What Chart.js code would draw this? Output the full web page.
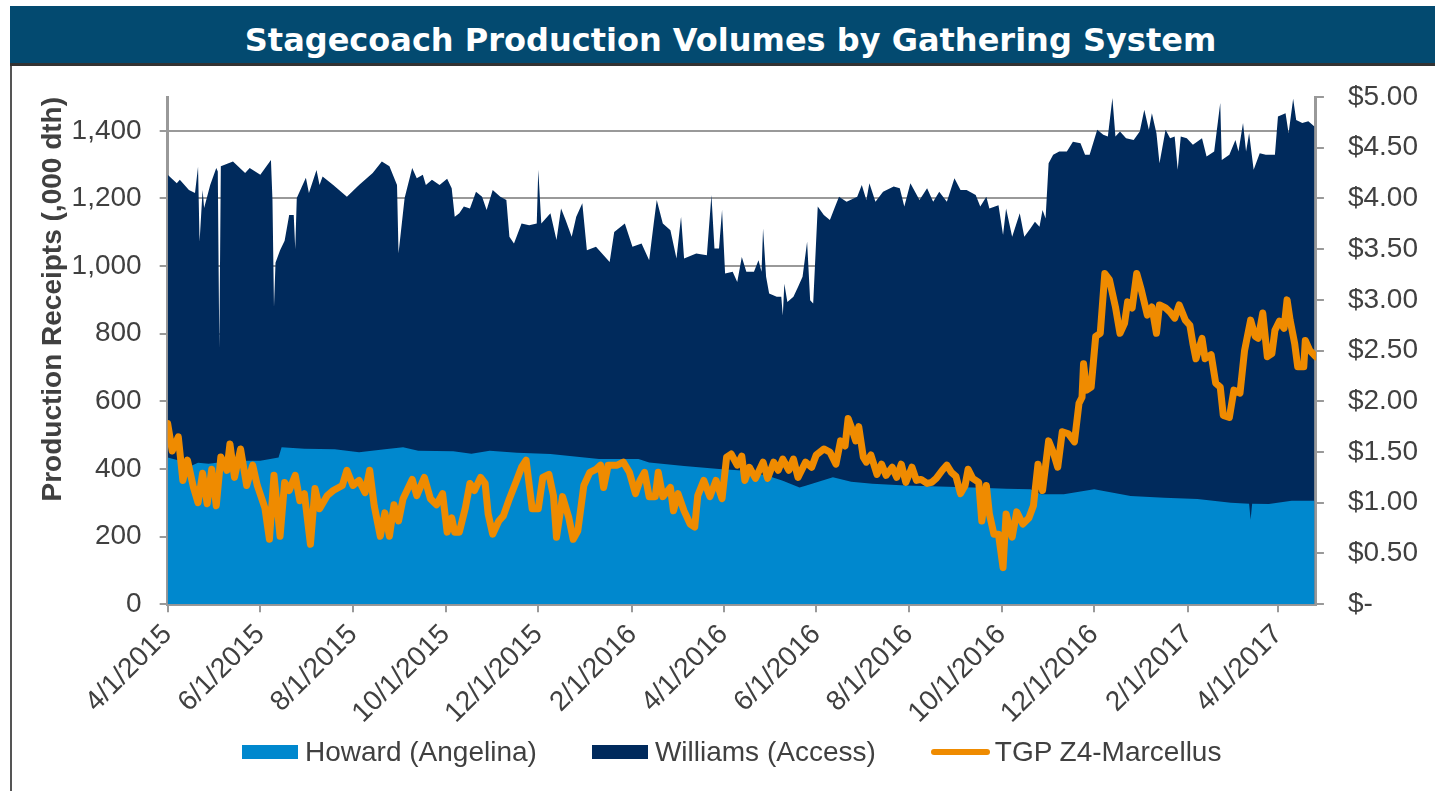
<!DOCTYPE html>
<html>
<head>
<meta charset="utf-8">
<title>Stagecoach Production Volumes by Gathering System</title>
<script src="https://cdn.jsdelivr.net/npm/chart.js@4.4.1/dist/chart.umd.min.js"></script>
<style>
  body { margin: 0; background: #fff; overflow: hidden; }
  #wrap { position: absolute; left: 0; top: 0; width: 1445px; height: 791px; }
  #banner {
    position: absolute; left: 10px; top: 6px; width: 1409px; height: 57px; z-index: 2;
    padding-left: 16px;
    background: #034a70; border-bottom: 3px solid #333;
    color: #fff; font: bold 32px "DejaVu Sans", Verdana, sans-serif;
    text-align: center; line-height: 68px;
  }
  #edge { position: absolute; left: 10px; top: 66px; width: 2px; height: 725px; background: #555; z-index: 2; }
  #legend {
    position: absolute; left: 242px; top: 736px; height: 32px; z-index: 2;
    display: flex; align-items: center;
    font: 28px "Liberation Sans", Arial, sans-serif; color: #404040;
  }
  #legend .item { display: flex; align-items: center; margin-right: 55px; }
  #legend .box { width: 56px; height: 14px; margin-right: 7px; }
  #legend .line { width: 59px; height: 6px; border-radius: 3px; margin-right: 5px; }
</style>
</head>
<body>
<div id="wrap"><canvas id="myChart"></canvas></div>
<div id="banner">Stagecoach Production Volumes by Gathering System</div>
<div id="edge"></div>
<div id="legend">
  <div class="item"><span class="box" style="background:#0088ce"></span>Howard (Angelina)</div>
  <div class="item"><span class="box" style="background:#002a5c"></span>Williams (Access)</div>
  <div class="item"><span class="line" style="background:#ef8b00"></span>TGP Z4-Marcellus</div>
</div>
<script>
// x values are days since 4/1/2015
var tickLabels = ["4/1/2015", "6/1/2015", "8/1/2015", "10/1/2015", "12/1/2015", "2/1/2016",
  "4/1/2016", "6/1/2016", "8/1/2016", "10/1/2016", "12/1/2016", "2/1/2017", "4/1/2017"];

// top of the stack: Howard + Williams (000 dth)
var totalDays = [0, 6, 8, 14, 18, 20, 21, 23, 24, 28, 32, 33, 34, 35, 43, 51, 54, 61, 68, 69, 70, 71, 74, 77, 80, 83, 84, 85,
  91, 93, 98, 100, 102, 109, 118, 126, 135, 141, 146, 151, 152, 156, 161, 164, 168, 170, 174, 179, 184, 187, 189,
  192, 195, 199, 203, 207, 210, 214, 219, 223, 225, 228, 233, 238, 243, 244, 246, 252, 256, 259, 262, 266, 269,
  273, 276, 282, 287, 291, 294, 301, 306, 312, 317, 320, 322, 326, 331, 335, 338, 340, 348, 355, 358, 360, 363,
  365, 367, 372, 375, 378, 381, 386, 389, 391, 392, 394, 396, 401, 404, 405, 406, 408, 412, 415, 418, 421, 423,
  425, 428, 432, 436, 439, 442, 447, 454, 457, 460, 462, 466, 471, 478, 482, 485, 489, 495, 500, 504, 508, 513,
  518, 522, 526, 532, 535, 539, 541, 547, 550, 552, 556, 561, 564, 568, 571, 574, 576, 578, 580, 583, 587, 592,
  596, 601, 604, 607, 612, 616, 619, 622, 624, 627, 631, 636, 640, 643, 646, 648, 651, 653, 657, 660, 663, 665,
  667, 671, 675, 681, 684, 689, 693, 694, 699, 703, 705, 708, 710, 712, 715, 719, 723, 729, 731, 736, 738, 741,
  743, 747, 751, 755];
var totalVals = [1270, 1245, 1255, 1225, 1216, 1294, 1072, 1225, 1172, 1240, 1290, 1280, 756, 1295, 1309, 1275, 1290, 1270,
  1314, 1195, 879, 1010, 1047, 1075, 1151, 1151, 1050, 1201,
  1261, 1216, 1284, 1240, 1265, 1240, 1205, 1240, 1275, 1309, 1295, 1240, 1038, 1201, 1290, 1260, 1270, 1240, 1255,
  1240, 1258, 1230, 1146,
  1156, 1176, 1170, 1220, 1205, 1166, 1225, 1205, 1195, 1087, 1067, 1126, 1121, 1126, 1285, 1126, 1156, 1077, 1170,
  1136, 1087, 1146, 1186, 1047, 1057, 1032, 1012, 1101, 1126, 1057, 1067, 1017, 1126, 1195, 1126, 1106, 1022, 1146,
  1022, 1037, 1032, 1210, 1052, 1052,
  1166, 978, 983, 953, 1027, 983, 983, 1017, 983, 1111, 968, 919, 909, 909, 854, 948, 894, 909, 938, 968, 1072, 899,
  889, 1176, 1151, 1136, 1171, 1205, 1190, 1205, 1240, 1195, 1245, 1190, 1220, 1235, 1230, 1176, 1245, 1195, 1230,
  1190, 1220, 1190,
  1260, 1225, 1225, 1210, 1176, 1205, 1170, 1180, 1092, 1170, 1087, 1156, 1087, 1111, 1131, 1116, 1166, 1141, 1304,
  1329, 1339, 1339,
  1368, 1363, 1329, 1329, 1403, 1388, 1383, 1497, 1383, 1398, 1378, 1373, 1398, 1462, 1403, 1452, 1393, 1304, 1403,
  1378, 1383, 1285,
  1383, 1378, 1359, 1378, 1324, 1339, 1482, 1314, 1329, 1373, 1339, 1423, 1339, 1393, 1285, 1334, 1329, 1329, 1442,
  1452, 1393, 1495,
  1432, 1423, 1428, 1413];

// Howard (Angelina), 000 dth
var howardDays = [0, 8, 13, 20, 27, 43, 61, 73, 75, 90, 110, 126, 143, 155, 165, 188, 200, 212, 230, 252, 284, 310, 317,
  340, 363, 378, 395, 405, 416, 420, 438, 450, 464, 486, 508, 530, 552, 568, 575, 590, 610, 634, 656, 678, 700,
  712, 713, 714, 725, 740, 755];
var howardVals = [434, 424, 404, 418, 415, 424, 424, 434, 464, 460, 458, 449, 458, 464, 454, 452, 445, 454, 448, 444, 429,
  429, 419, 409, 400, 395, 380, 365, 345, 350, 375, 362, 356, 351, 348, 345, 341, 340, 325, 325, 340, 320, 315, 311,
  300, 297, 250, 297, 296, 306, 306];

// TGP Z4-Marcellus, $/dth
var priceDays = [0, 3, 7, 10, 13, 17, 20, 23, 26, 29, 32, 35, 39, 41, 44, 48, 52, 56, 59, 64, 67, 70, 74, 77, 80, 84, 87,
  90, 94, 97, 100, 105, 109, 115, 118, 122, 126, 130, 133, 136, 140, 143, 146, 149, 152, 155, 161, 164, 169, 173,
  177, 181, 184, 187, 189, 192, 196, 199, 202, 206, 209, 211, 214, 218, 221, 225, 230, 233, 236, 240, 244, 247,
  251, 254, 256, 260, 264, 267, 270, 274, 278, 282, 285, 287, 290, 296, 300, 304, 308, 311, 314, 317, 321, 323,
  326, 331, 333, 336, 340, 344, 347, 349, 353, 357, 361, 365, 368, 371, 375, 378, 380, 383, 387, 392, 395, 399,
  402, 405, 409, 412, 415, 420, 424, 427, 432, 436, 440, 443, 446, 448, 450, 453, 455, 458, 460, 463, 467, 470,
  473, 477, 480, 483, 486, 490, 493, 496, 500, 503, 506, 510, 513, 516, 519, 522, 525, 527, 530, 534, 536, 539,
  541, 544, 547, 550, 552, 556, 559, 563, 567, 570, 573, 576, 580, 583, 586, 589, 593, 597, 600, 602, 603, 605,
  608, 611, 614, 617, 620, 624, 627, 630, 632, 635, 638, 641, 645, 648, 651, 653, 657, 660, 663, 666, 670, 673,
  675, 677, 681, 683, 687, 690, 693, 695, 699, 702, 706, 709, 713, 716, 718, 721, 724, 727, 729, 732, 735, 737,
  739, 742, 744, 748, 749, 752, 756];
var priceVals = [1.78, 1.51, 1.65, 1.22, 1.42, 1.15, 1.00, 1.29, 0.99, 1.33, 0.97, 1.45, 1.32, 1.58, 1.25, 1.53, 1.17,
  1.37, 1.17, 0.95, 0.64, 1.27, 0.67, 1.20, 1.12, 1.27, 1.02, 1.09, 0.59, 1.14, 0.94, 1.07, 1.12, 1.17, 1.32, 1.17,
  1.22, 1.10, 1.32, 0.97, 0.67, 0.90, 0.67, 0.98, 0.82, 1.04, 1.23, 1.07, 1.25, 1.04, 0.98, 1.09, 0.71, 0.85, 0.71,
  0.71, 0.95, 1.19, 1.12, 1.25, 1.19, 0.89, 0.69, 0.82, 0.87, 1.04, 1.23, 1.35, 1.42, 0.94, 0.94, 1.25, 1.28, 1.07,
  0.66, 1.06, 0.86, 0.64, 0.72, 1.17, 1.30, 1.33, 1.37, 1.15, 1.37, 1.37, 1.40, 1.30, 1.09, 1.22, 1.30, 1.06, 1.06,
  1.30, 1.06, 1.15, 0.92, 1.09, 0.92, 0.79, 0.76, 1.07, 1.22, 1.06, 1.22, 1.04, 1.45, 1.48, 1.37, 1.46, 1.22, 1.35,
  1.24, 1.40, 1.24, 1.40, 1.32, 1.43, 1.32, 1.43, 1.25, 1.40, 1.35, 1.47, 1.53, 1.50, 1.38, 1.61, 1.56, 1.83, 1.75,
  1.61, 1.75, 1.45, 1.40, 1.47, 1.28, 1.38, 1.27, 1.35, 1.25, 1.38, 1.20, 1.35, 1.22, 1.23, 1.19, 1.20, 1.24, 1.32,
  1.37, 1.30, 1.26, 1.09, 1.17, 1.33, 1.24, 1.20, 0.82, 1.17, 0.89, 0.69, 0.69, 0.36, 0.89, 0.66, 0.91, 0.79, 0.85,
  0.97, 1.38, 1.12, 1.61, 1.50, 1.35, 1.70, 1.68, 1.60, 1.98, 2.04, 2.37, 2.11, 2.14, 2.64, 2.67, 3.26, 3.20, 2.93,
  2.67, 2.77, 2.98, 2.92, 3.26, 3.10, 2.85, 2.93, 2.67, 2.95, 2.92, 2.88, 2.82, 2.95, 2.80, 2.75, 2.57, 2.42, 2.62,
  2.42, 2.46, 2.18, 2.14, 1.86, 1.84, 2.11, 2.08, 2.50, 2.80, 2.64, 2.62, 2.87, 2.44, 2.47, 2.70, 2.79, 2.72, 3.00,
  2.80, 2.57, 2.34, 2.34, 2.60, 2.50, 2.44];

function dayOf(label) {
  var p = label.split("/");
  return Math.round((Date.UTC(+p[2], +p[0] - 1, +p[1]) - Date.UTC(2015, 3, 1)) / 864e5);
}
var tickDays = tickLabels.map(dayOf);

function points(days, vals) {
  return days.map(function (d, i) { return { x: d, y: vals[i] }; });
}

Chart.defaults.font.family = "'Liberation Sans', Arial, sans-serif";
Chart.defaults.font.size = 28;
Chart.defaults.color = "#404040";

var canvas = document.getElementById("myChart");
var grey = "#999999";

var myChart = new Chart(canvas, {
  type: "line",
  data: {
    datasets: [
      {
        label: "Howard (Angelina)",
        data: points(howardDays, howardVals),
        yAxisID: "y",
        backgroundColor: "#0088ce",
        borderWidth: 0,
        pointRadius: 0,
        fill: "origin",
        order: 1,
      },
      {
        label: "Williams (Access)",
        data: points(totalDays, totalVals),
        yAxisID: "y",
        backgroundColor: "#002a5c",
        borderWidth: 0,
        pointRadius: 0,
        fill: "origin",
        order: 2,
      },
      {
        label: "TGP Z4-Marcellus",
        data: points(priceDays, priceVals),
        yAxisID: "y2",
        borderColor: "#ef8b00",
        borderWidth: 7,
        borderJoinStyle: "round",
        borderCapStyle: "round",
        pointRadius: 0,
        fill: false,
        order: 0,
      },
    ],
  },
  options: {
    responsive: true,
    maintainAspectRatio: false,
    animation: false,
    // the canvas covers the whole page; banner, frame edge and legend sit on top as html
    layout: { padding: { left: 0, right: 3, top: 97, bottom: 55 } },
    plugins: {
      legend: { display: false },
      tooltip: { enabled: false },
    },
    scales: {
      x: {
        type: "linear",
        min: 0,
        max: 756,
        afterBuildTicks: function (scale) {
          scale.ticks = tickDays.map(function (d) { return { value: d }; });
        },
        ticks: {
          autoSkip: false,
          minRotation: 45,
          maxRotation: 45,
          padding: 6,
          callback: function (value) {
            return tickLabels[tickDays.indexOf(value)];
          },
        },
        grid: { drawOnChartArea: false, color: grey, lineWidth: 2, tickLength: 8 },
        border: { color: grey, width: 3 },
      },
      y: {
        position: "left",
        min: 0,
        max: 1500,
        ticks: {
          stepSize: 200,
          includeBounds: false,
          padding: 18,
          callback: function (v) { return v.toLocaleString("en-US"); },
        },
        grid: { color: grey, lineWidth: 2, tickLength: 8 },
        border: { color: grey, width: 3 },
        title: {
          display: true,
          text: "Production Receipts (,000 dth)",
          align: "end",
          font: { weight: "bold", size: 28 },
          padding: { top: 36, bottom: -16 },
        },
      },
      y2: {
        position: "right",
        min: 0,
        max: 5,
        ticks: {
          stepSize: 0.5,
          padding: 24,
          callback: function (v) { return v === 0 ? "$-" : "$" + v.toFixed(2); },
        },
        grid: { drawOnChartArea: false, color: grey, lineWidth: 2, tickLength: 8 },
        border: { color: grey, width: 3 },
      },
    },
  },
});
</script>
</body>
</html>
